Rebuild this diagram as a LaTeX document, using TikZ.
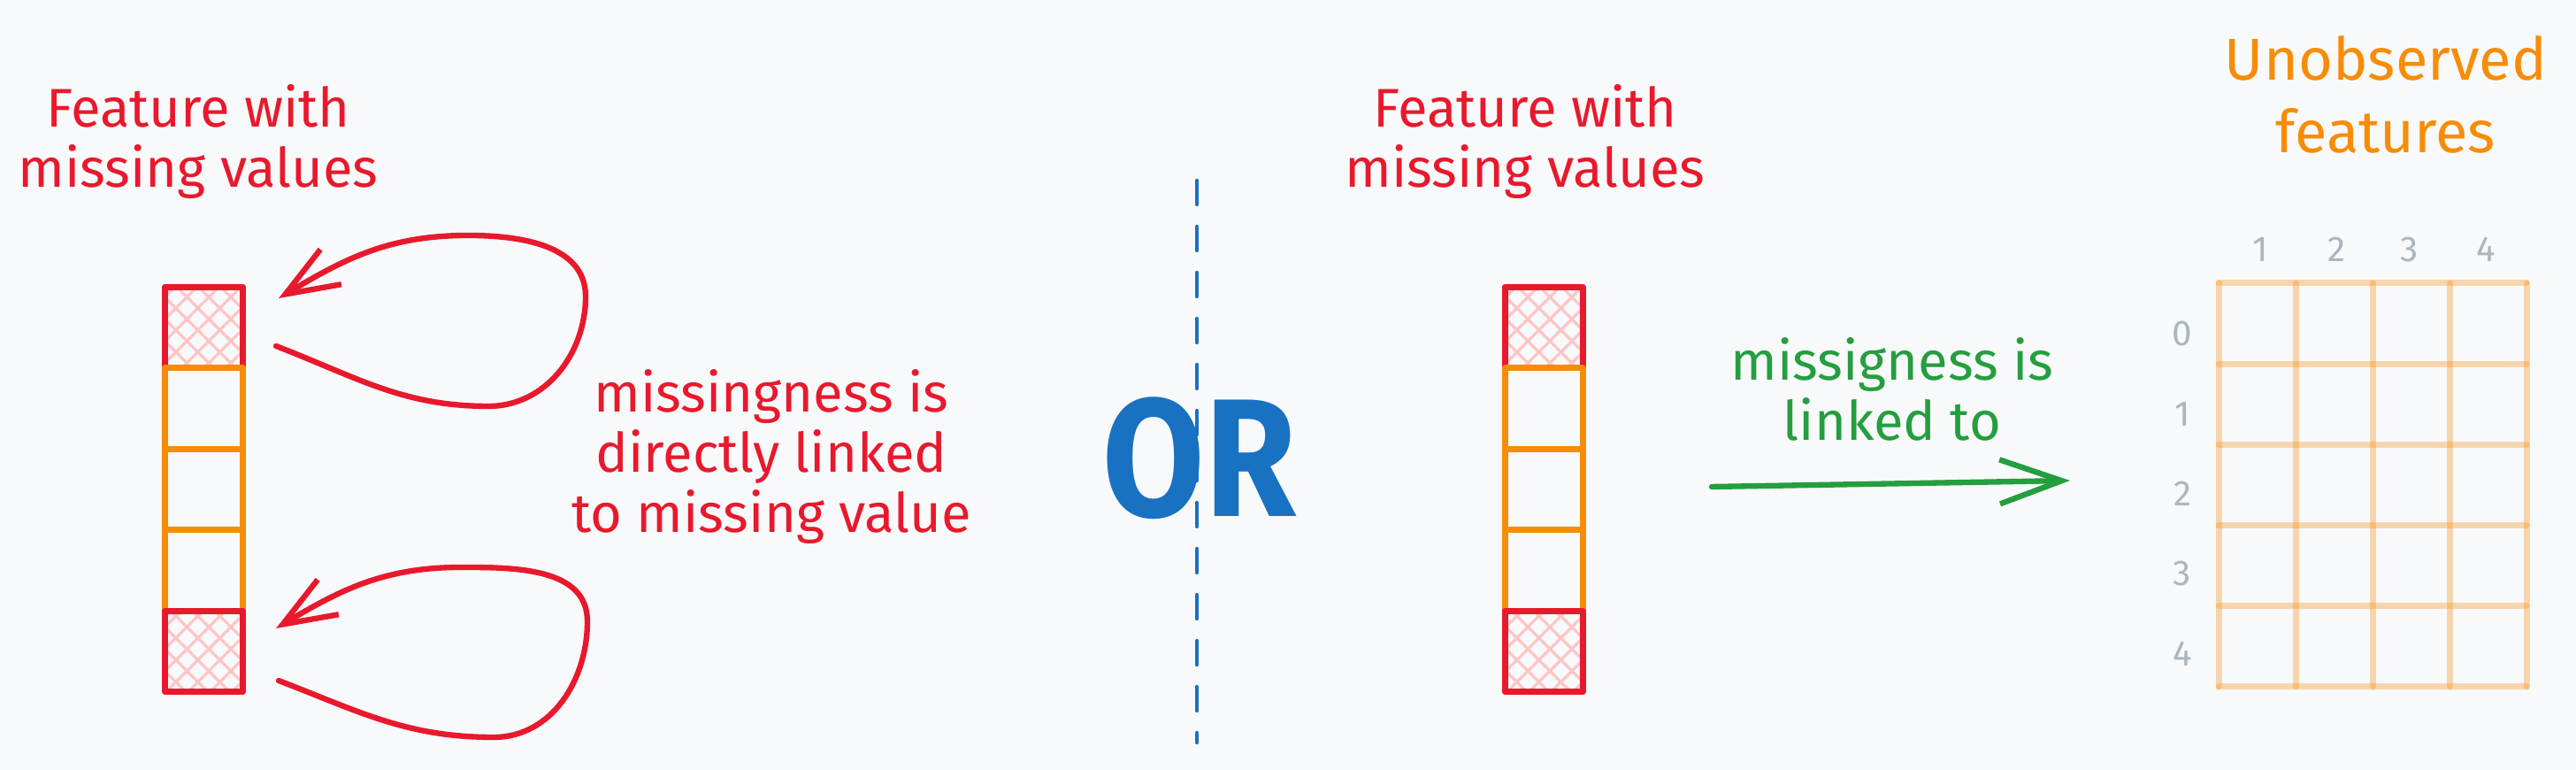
\documentclass[tikz,border=0pt]{standalone}
\usepackage{fontspec}
\setmainfont{Fira Sans}
\usetikzlibrary{arrows.meta,patterns.meta}

\definecolor{missred}{HTML}{E8192C}
\definecolor{valorange}{HTML}{F78C07}
\definecolor{hatchpink}{HTML}{FFC4C4}
\definecolor{orblue}{HTML}{1971C2}
\definecolor{linkgreen}{HTML}{249E3E}
\definecolor{numgray}{HTML}{ADB5BD}
\definecolor{bgpaper}{HTML}{F8F9FB}

\begin{document}
\begin{tikzpicture}[line cap=round, line join=round,
    hand/.style={align=center, inner sep=0pt, font=\fontsize{17.5}{19.4}\selectfont},
    cell/.style={draw, rectangle, line width=2pt, minimum width=0.88cm, minimum height=0.915cm, inner sep=0pt},
    valcell/.style={cell, draw=valorange},
    misscell/.style={cell, draw=missred,
        preaction={pattern={Lines[angle=45, distance=5pt, line width=0.9pt]}, pattern color=hatchpink},
        preaction={pattern={Lines[angle=-45, distance=5pt, line width=0.9pt]}, pattern color=hatchpink}},
    loopline/.style={draw=missred, line width=1.8pt, -{Straight Barb[length=6mm, width=4.6mm]}},
    linkline/.style={draw=linkgreen, line width=1.8pt, -{Straight Barb[length=7mm, width=5mm]}},
    gridline/.style={draw=valorange, draw opacity=0.32, line width=2pt},
    numlabel/.style={text=numgray, inner sep=0pt, font=\fontsize{11.5}{11.5}\selectfont}]

    % === 背景 ===
    \fill[bgpaper] (0,0) rectangle (29.12,8.70);
    \useasboundingbox (0,0) rectangle (29.12,8.70);

    % === 左: 带缺失值的特征 ===
    \node[hand, text=missred] (ltitle) at (2.24,7.10) {Feature with\\missing values};
    \foreach \i/\kind in {1/misscell, 2/valcell, 3/valcell, 4/valcell, 5/misscell}
        \node[\kind] (l\i) at (2.305, 5.915-0.915*\i) {};

    % l1 → l1, l5 → l5
    \draw[loopline] ([shift={(0.34,-0.21)}]l1.east) to[out=-21,in=180] (5.52,4.11)
        to[out=0,in=-90] (6.62,5.35) to[out=90,in=0] (5.29,6.04) to[out=180,in=31] ([shift={(0.37,0.33)}]l1.east);
    \draw[loopline] ([shift={(0.37,-0.33)}]l5.east) to[out=-21,in=180] (5.58,0.37)
        to[out=0,in=-90] (6.64,1.68) to[out=90,in=0] (5.21,2.29) to[out=180,in=31] ([shift={(0.34,0.26)}]l5.east);

    \node[hand, text=missred] (direct) at (8.72,3.54) {missingness is\\directly linked\\to missing value};

    % === 中间: OR ===
    \coordinate (sepTop) at (13.53,6.66);
    \coordinate (sepBot) at (13.53,0.31);
    \draw[orblue, line width=1.2pt, dash pattern=on 0.27cm off 0.25cm] (sepTop) -- (sepBot);
    \node[text=orblue, inner sep=0pt, font=\fontsize{54}{54}\selectfont\bfseries] (or) at (13.56,3.52) {\scalebox{0.88}[1]{OR}};

    % === 右: 特征 → 未观测特征 ===
    \node[hand, text=missred] (mtitle) at (17.24,7.10) {Feature with\\missing values};
    \foreach \i/\kind in {1/misscell, 2/valcell, 3/valcell, 4/valcell, 5/misscell}
        \node[\kind] (m\i) at (17.45, 5.915-0.915*\i) {};

    \node[hand, text=linkgreen] (linked) at (21.39,4.30) {missigness is\\linked to};
    \coordinate (linkFrom) at (19.35,3.20);
    \coordinate (linkTo) at (23.40,3.27);
    \draw[linkline] (linkFrom) -- (linkTo);

    \node[hand, text=valorange, font=\fontsize{19}{23.3}\selectfont] (utitle) at (26.97,7.63) {Unobserved\\features};

    % 网格
    \foreach \i in {0,...,4}
        \draw[gridline] (25.08+0.87*\i, 5.50) -- ++(0,-4.56);
    \foreach \j in {0,...,5}
        \draw[gridline] (25.08, 5.50-0.912*\j) -- ++(3.48,0);

    % 列号, 行号
    \foreach \c/\x in {1/25.55, 2/26.41, 3/27.24, 4/28.10}
        \node[numlabel] (col\c) at (\x,5.88) {\c};
    \foreach \r in {0,...,4}
        \node[numlabel] (row\r) at (24.67, 4.93-0.905*\r) {\r};

\end{tikzpicture}
\end{document}
